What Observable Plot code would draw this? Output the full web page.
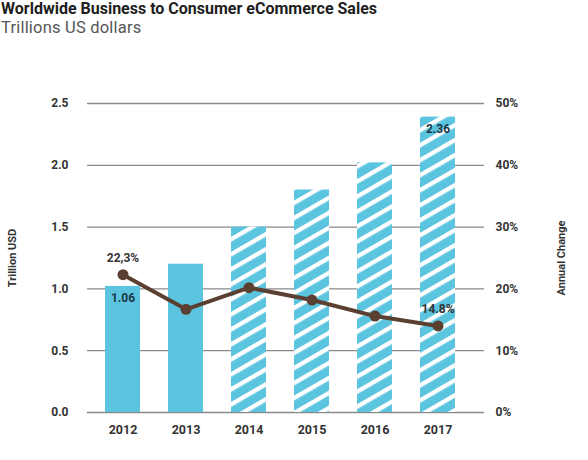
<!DOCTYPE html>
<html>
<head>
<meta charset="utf-8">
<script src="https://cdn.jsdelivr.net/npm/d3@7"></script>
<script src="https://cdn.jsdelivr.net/npm/@observablehq/plot@0.6"></script>
<style>
  body { margin: 0; background: #fff; width: 588px; height: 460px; overflow: hidden; }
  #head { height: 40px; position: relative; font-family: Roboto, "DejaVu Sans", sans-serif; }
  #title { position: absolute; left: 1px; top: 0px; line-height: 18px; font-size: 16px; font-weight: bold; color: #1e1e1e; white-space: nowrap; }
  #subtitle { position: absolute; left: 1px; top: 18px; line-height: 19px; font-size: 16.5px; color: #555; white-space: nowrap; letter-spacing: 0.2px; }
</style>
</head>
<body>
<div id="head">
  <div id="title">Worldwide Business to Consumer eCommerce Sales</div>
  <div id="subtitle">Trillions US dollars</div>
</div>
<div id="chart"></div>
<script>
const years = ["2012", "2013", "2014", "2015", "2016", "2017"];
const sales = [1.02, 1.2, 1.5, 1.8, 2.02, 2.39];           // trillion USD (bar heights as drawn)
const projected = [false, false, true, true, true, true];   // hatched bars
const annualChange = [22.3, 16.7, 20.2, 18.2, 15.6, 14.0];  // percent (as drawn)
const leftTicks = [0, 0.5, 1.0, 1.5, 2.0, 2.5];
const rightTickLabels = ["0%", "10%", "20%", "30%", "40%", "50%"];
const barLabels = [{year: "2012", text: "1.06"}, {year: "2017", text: "2.36"}];
const pctLabels = [{year: "2012", text: "22,3%"}, {year: "2017", text: "14.8%"}];

const pctToY = p => p / 50 * 2.5;
const data = years.map((y, i) => ({year: y, value: sales[i], projected: projected[i], pct: annualChange[i]}));

const blue = "#5bc4df";
const brown = "#5b4032";

const svg = Plot.plot({
  width: 588,
  height: 420,
  marginTop: 63,
  marginBottom: 48,
  marginLeft: 87,
  marginRight: 104,
  style: {fontFamily: "Roboto, 'DejaVu Sans', sans-serif", fontSize: "12px", color: "#333", overflow: "visible", background: "#fff"},
  x: {domain: years, range: [104, 456], paddingInner: 0.447, paddingOuter: 0, label: null},
  y: {domain: [0, 2.5], label: null},
  color: {type: "identity"},
  marks: [
    Plot.ruleY(leftTicks, {stroke: "#8a8a8a", strokeWidth: 1.3}),
    Plot.barY(data, {x: "year", y: "value", fill: d => d.projected ? "url(#hatch)" : blue}),
    Plot.line(data, {x: "year", y: d => pctToY(d.pct), stroke: brown, strokeWidth: 4}),
    Plot.dot(data, {x: "year", y: d => pctToY(d.pct), r: 5.5, fill: brown}),
    Plot.axisY({ticks: leftTicks, tickFormat: d3.format(".1f"), tickSize: 0, tickPadding: 19, fontWeight: "bold", fontSize: 12, label: null}),
    Plot.axisY({anchor: "right", ticks: leftTicks, tickFormat: (d, i) => rightTickLabels[i], tickSize: 0, tickPadding: 11, fontWeight: "bold", fontSize: 12, label: null}),
    Plot.axisX({tickSize: 0, tickPadding: 13, fontWeight: "bold", fontSize: 12.5, label: null}),
    Plot.text(["Trillion USD"], {frameAnchor: "left", textAnchor: "middle", dx: -75, rotate: -90, fontSize: 11, fontWeight: "bold", fill: "#333"}),
    Plot.text(["Annual Change"], {frameAnchor: "right", textAnchor: "middle", dx: 77, rotate: -90, fontSize: 11, fontWeight: "bold", fill: "#333"}),
    Plot.text(barLabels, {x: "year", y: d => sales[years.indexOf(d.year)], text: "text", dy: 12, fontSize: 12, fontWeight: "bold", fill: "#1d3846"}),
    Plot.text(pctLabels, {x: "year", y: d => pctToY(annualChange[years.indexOf(d.year)]), text: "text", dy: -17, fontSize: 12, fontWeight: "bold", fill: "#333"})
  ]
});

const defs = d3.select(svg).insert("defs", ":first-child");
const pat = defs.append("pattern")
  .attr("id", "hatch")
  .attr("patternUnits", "userSpaceOnUse")
  .attr("width", 13).attr("height", 13)
  .attr("patternTransform", "rotate(-30)");
pat.append("rect").attr("width", 13).attr("height", 13).attr("fill", blue);
pat.append("rect").attr("width", 13).attr("height", 4.3).attr("fill", "#fff");

document.getElementById("chart").appendChild(svg);
</script>
</body>
</html>
